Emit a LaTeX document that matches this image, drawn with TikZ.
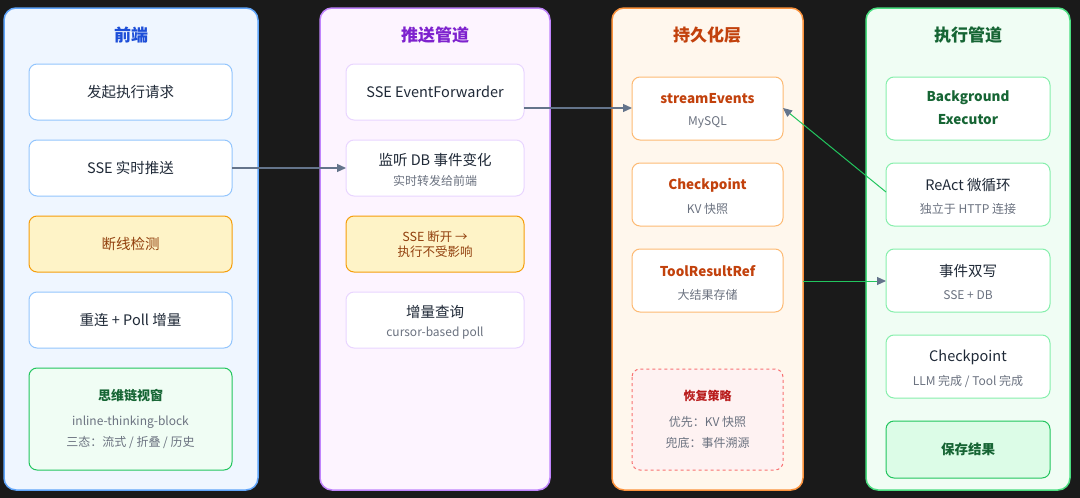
\documentclass[tikz,border=0pt]{standalone}
\usepackage{fontspec}
\setmainfont{Noto Sans CJK SC}
\usetikzlibrary{positioning,arrows.meta}
\definecolor{bgdark}{HTML}{1A1A1A}
\definecolor{feline}{HTML}{60A5FA}\definecolor{fefill}{HTML}{EFF6FF}\definecolor{fetitle}{HTML}{1D4ED8}\definecolor{feboxline}{HTML}{93C5FD}
\definecolor{puline}{HTML}{C084FC}\definecolor{pufill}{HTML}{FDF4FF}\definecolor{putitle}{HTML}{7E22CE}\definecolor{puboxline}{HTML}{E9D5FF}
\definecolor{peline}{HTML}{FB923C}\definecolor{pefill}{HTML}{FFF7ED}\definecolor{petitle}{HTML}{C2410C}\definecolor{peboxline}{HTML}{FDBA74}
\definecolor{exline}{HTML}{4ADE80}\definecolor{exfill}{HTML}{F0FDF4}\definecolor{extitle}{HTML}{166534}\definecolor{exboxline}{HTML}{86EFAC}
\definecolor{warnline}{HTML}{F59E0B}\definecolor{warnfill}{HTML}{FEF3C7}\definecolor{warntext}{HTML}{92400E}
\definecolor{okline}{HTML}{22C55E}\definecolor{okfill}{HTML}{DCFCE7}
\definecolor{redline}{HTML}{F87171}\definecolor{redfill}{HTML}{FEF2F2}\definecolor{redtext}{HTML}{B91C1C}
\definecolor{maintext}{HTML}{1F2937}\definecolor{subtext}{HTML}{6B7280}\definecolor{arrowgrey}{HTML}{64748B}
\tikzset{
  panel/.style={rounded corners=12pt, line width=1.5pt},
  title/.style={font=\fontsize{17}{20}\selectfont\bfseries},
  box/.style={rounded corners=8pt, line width=1pt, fill=white},
  lbl/.style={font=\fontsize{14.5}{17}\selectfont, text=maintext, align=center},
  sub/.style={font=\fontsize{12}{14}\selectfont, text=subtext, align=center},
  link/.style={-{Triangle[length=9pt,width=8pt]}, line width=1.2pt, draw=arrowgrey},
  glink/.style={-{Triangle[length=9pt,width=8pt,color=arrowgrey]}, line width=1pt, draw=okline},
}
\begin{document}
\begin{tikzpicture}[x=1pt,y=-1pt]
  \fill[bgdark] (0,0) rectangle (1080,498);
  \useasboundingbox (0,0) rectangle (1080,498);
  % 四个面板
  \draw[panel, draw=feline, fill=fefill] (4,8) rectangle (258,490);
  \draw[panel, draw=puline, fill=pufill] (320,8) rectangle (550,490);
  \draw[panel, draw=peline, fill=pefill] (612,8) rectangle (803,490);
  \draw[panel, draw=exline, fill=exfill] (866,8) rectangle (1070,490);
  \node[title, text=fetitle] (feT) at (131,35) {前端};
  \node[title, text=putitle] (puT) at (435,35) {推送管道};
  \node[title, text=petitle] (peT) at (707,35) {持久化层};
  \node[title, text=extitle] (exT) at (968,35) {执行管道};
  % 前端
  \draw[box, draw=feboxline] (29,64) rectangle (232,120);
  \node[lbl] (req) at (130.5,92) {发起执行请求};
  \draw[box, draw=feboxline] (29,140) rectangle (232,196);
  \node[lbl] (push) at (130.5,168) {SSE 实时推送};
  \coordinate (pushE) at (232,168);
  \draw[box, draw=warnline, fill=warnfill] (29,216) rectangle (232,272);
  \node[lbl, text=warntext] (det) at (130.5,244) {断线检测};
  \draw[box, draw=feboxline] (29,292) rectangle (232,348);
  \node[lbl] (recon) at (130.5,320) {重连 + Poll 增量};
  \draw[box, draw=okline, fill=exfill] (29,368) rectangle (232,470);
  \node[lbl, font=\fontsize{13}{16}\selectfont\bfseries, text=extitle] (cot) at (130.5,396) {思维链视窗};
  \node[sub] (cotA) at (130.5,422) {inline-thinking-block};
  \node[sub] (cotB) at (130.5,443) {三态：流式 / 折叠 / 历史};
  % 推送管道
  \draw[box, draw=puboxline] (346,64) rectangle (524,120);
  \node[lbl] (fwd) at (435,92) {SSE EventForwarder};
  \coordinate (fwdE) at (524,108);
  \draw[box, draw=puboxline] (346,140) rectangle (524,196);
  \node[lbl] (lis) at (435,160) {监听 DB 事件变化};
  \node[sub] (lisS) at (435,181) {实时转发给前端};
  \coordinate (lisW) at (346,168);
  \draw[box, draw=warnline, fill=warnfill] (346,216) rectangle (524,272);
  \node[lbl, font=\fontsize{12.5}{15}\selectfont, text=warntext] (brk) at (435,244) {SSE 断开 →\\执行不受影响};
  \draw[box, draw=puboxline] (346,292) rectangle (524,348);
  \node[lbl] (inc) at (435,312) {增量查询};
  \node[sub] (incS) at (435,333) {cursor-based poll};
  % 持久化层
  \draw[box, draw=peboxline] (632,77) rectangle (783,140);
  \node[lbl, font=\fontsize{13.5}{16}\selectfont\bfseries, text=petitle] (se) at (707.5,99) {streamEvents};
  \node[sub] (seS) at (707.5,122) {MySQL};
  \coordinate (seW) at (632,108);
  \coordinate (seE) at (783,108);
  \draw[box, draw=peboxline] (632,163) rectangle (783,226);
  \node[lbl, font=\fontsize{13.5}{16}\selectfont\bfseries, text=petitle] (cp) at (707.5,185) {Checkpoint};
  \node[sub] (cpS) at (707.5,209) {KV 快照};
  \draw[box, draw=peboxline] (632,249) rectangle (783,312);
  \node[lbl, font=\fontsize{13.5}{16}\selectfont\bfseries, text=petitle] (trr) at (707.5,271) {ToolResultRef};
  \node[sub] (trrS) at (707.5,295) {大结果存储};
  \coordinate (peE) at (803,281);
  \draw[box, draw=redline, fill=redfill, dashed] (632,369) rectangle (783,470);
  \node[lbl, font=\fontsize{12}{15}\selectfont\bfseries, text=redtext] (rec) at (707.5,396) {恢复策略};
  \node[sub] (recA) at (707.5,422) {优先：KV 快照};
  \node[sub] (recB) at (707.5,443) {兜底：事件溯源};
  % 执行管道
  \draw[box, draw=exboxline] (886,77) rectangle (1050,140);
  \node[lbl, font=\fontsize{13.5}{23}\selectfont\bfseries, text=extitle] (bg) at (968,108) {Background\\Executor};
  \draw[box, draw=exboxline] (886,163) rectangle (1050,226);
  \node[lbl] (ra) at (968,185) {ReAct 微循环};
  \node[sub] (raS) at (968,209) {独立于 HTTP 连接};
  \coordinate (raW) at (886,192);
  \draw[box, draw=exboxline] (886,249) rectangle (1050,312);
  \node[lbl] (dw) at (968,271) {事件双写};
  \node[sub] (dwS) at (968,295) {SSE + DB};
  \coordinate (dwW) at (886,281);
  \draw[box, draw=exboxline] (886,335) rectangle (1050,398);
  \node[lbl] (ck) at (968,357) {Checkpoint};
  \node[sub] (ckS) at (968,381) {LLM 完成 / Tool 完成};
  \draw[box, draw=okline, fill=okfill] (886,421) rectangle (1050,478);
  \node[lbl, font=\fontsize{13.5}{16}\selectfont\bfseries, text=extitle] (save) at (968,449.5) {保存结果};
  % 连线
  \draw[link] (pushE) -- (lisW);
  \draw[link] (fwdE) -- (seW);
  \draw[glink] (raW) -- (seE);
  \draw[glink] (peE) -- (dwW);
\end{tikzpicture}
\end{document}
